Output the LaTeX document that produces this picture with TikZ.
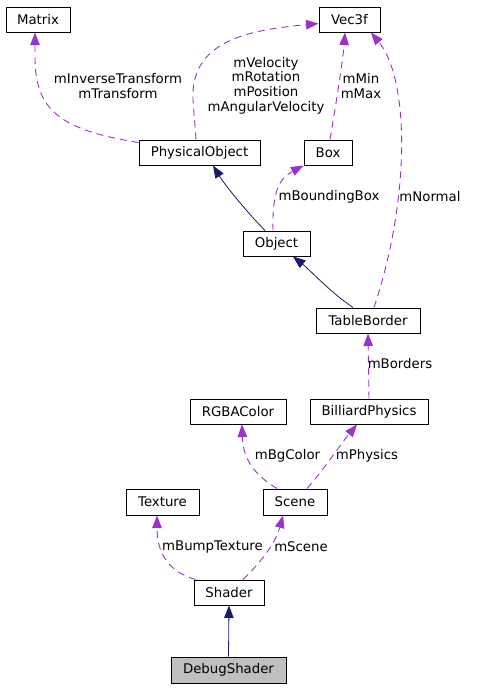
\documentclass[tikz,border=0pt]{standalone}
\usepackage{fontspec}
\setmainfont{DejaVu Sans}
\usetikzlibrary{arrows.meta}
\definecolor{dep}{HTML}{9A32CD}
\definecolor{inh}{HTML}{191970}
\definecolor{hl}{HTML}{BFBFBF}
\begin{document}
\begin{tikzpicture}[x=1pt,y=-1pt,
  every node/.style={font=\fontsize{13.3}{14.7}\selectfont},
  cls/.style={draw=black, line width=1pt, inner sep=0pt, minimum height=25pt, fill=white},
  lbl/.style={inner sep=0pt, align=center},
  depedge/.style={draw=dep, line width=0.9pt, dash pattern=on 7pt off 5pt, -{Triangle[length=12.5pt,width=9.5pt,fill=dep]}},
  inhedge/.style={draw=inh, line width=0.8pt, -{Triangle[length=12.5pt,width=9.5pt,fill=inh]}}]
\useasboundingbox (0,0) rectangle (479,688);
% classes
\node[cls, minimum width=64pt] (matrix) at (38,19.5) {Matrix};
\node[cls, minimum width=61pt] (vec) at (349.5,19.5) {Vec3f};
\node[cls, minimum width=121pt] (phys) at (199.5,152.5) {PhysicalObject};
\node[cls, minimum width=48pt] (box) at (328,152.5) {Box};
\node[cls, minimum width=67pt] (obj) at (276.5,243.5) {Object};
\node[cls, minimum width=104pt] (tb) at (368,320.5) {TableBorder};
\node[cls, minimum width=96pt] (rgba) at (238,411.5) {RGBAColor};
\node[cls, minimum width=118pt] (bp) at (369,411.5) {BilliardPhysics};
\node[cls, minimum width=73pt, minimum height=26pt] (tex) at (162.5,502) {Texture};
\node[cls, minimum width=64pt, minimum height=26pt] (scene) at (295,502) {Scene};
\node[cls, minimum width=70pt] (shader) at (229,592.5) {Shader};
\node[cls, minimum width=115pt, minimum height=26pt, fill=hl] (dbg) at (228.5,670) {DebugShader};
% edges
\draw[depedge] ([yshift=-3pt]phys.north west) .. controls (60,130) and (36,110) .. (35,60) -- ([xshift=-3pt]matrix.south);
\draw[depedge] ([xshift=-3.5pt]phys.north) -- (193,100) .. controls (190,40) and (250,30) .. ([yshift=-4pt]vec.west);
\draw[depedge] ([xshift=2pt]box.north) .. controls (335,110) and (343,60) .. ([xshift=-4.5pt]vec.south);
\draw[depedge] ([xshift=6pt]tb.north) .. controls (410,200) and (410,80) .. ([xshift=21.5pt]vec.south);
\draw[depedge] ([xshift=-3.5pt]obj.north) .. controls (272,190) and (280,178) .. (box.south west);
\draw[inhedge] ([xshift=-11.5pt]obj.north) .. controls (245,210) and (225,185) .. ([xshift=13.5pt]phys.south);
\draw[inhedge] ([xshift=-15pt]tb.north) .. controls (330,292) and (310,270) .. ([xshift=16.5pt]obj.south);
\draw[depedge] (bp.north) -- (tb.south);
\draw[depedge] ([xshift=-18pt]scene.north) .. controls (255,475) and (243,460) .. ([xshift=4pt]rgba.south);
\draw[depedge] ([xshift=12pt]scene.north) .. controls (322,472) and (340,445) .. ([xshift=-12pt]bp.south);
\draw[depedge] ([xshift=2pt]shader.north west) .. controls (170,572) and (157,555) .. ([xshift=-5.5pt]tex.south);
\draw[depedge] ([xshift=14pt]shader.north) .. controls (258,565) and (275,545) .. ([xshift=-12pt]scene.south);
\draw[inhedge] (dbg.north) -- (shader.south);
% labels
\node[lbl] (l1) at (118,86) {mInverseTransform\\mTransform};
\node[lbl] (l2) at (266,85.5) {mVelocity\\mRotation\\mPosition\\mAngularVelocity};
\node[lbl] (l3) at (361,86) {mMin\\mMax};
\node[lbl] (l4) at (329,197) {mBoundingBox};
\node[lbl] (l5) at (430,197) {mNormal};
\node[lbl] (l6) at (400,364) {mBorders};
\node[lbl] (l7) at (287.5,456) {mBgColor};
\node[lbl] (l8) at (367,456) {mPhysics};
\node[lbl] (l9) at (212.5,547) {mBumpTexture};
\node[lbl] (l10) at (301,547) {mScene};
\end{tikzpicture}
\end{document}
